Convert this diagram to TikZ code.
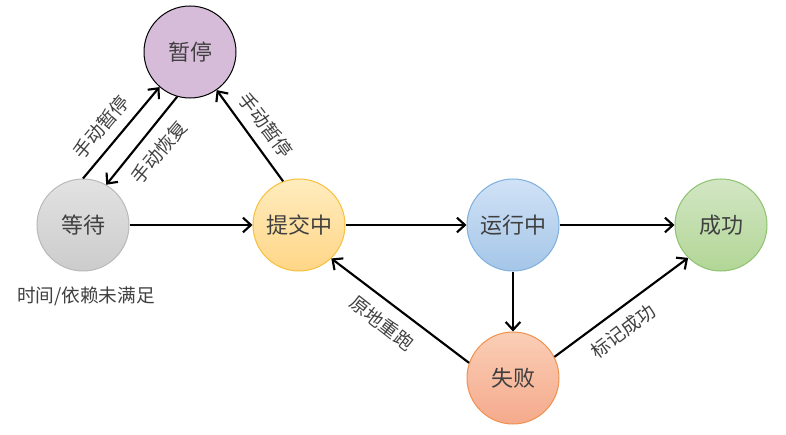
\documentclass[tikz,border=0pt]{standalone}
\usepackage{fontspec}
\setmainfont{Noto Sans CJK SC}
\usetikzlibrary{arrows.meta}
\definecolor{txt}{RGB}{64,64,64}
\definecolor{pausefill}{RGB}{215,188,218}
\definecolor{waittop}{RGB}{226,226,226}
\definecolor{waitbot}{RGB}{204,204,204}
\definecolor{waitdraw}{RGB}{185,185,185}
\definecolor{subtop}{RGB}{255,236,190}
\definecolor{subbot}{RGB}{255,214,135}
\definecolor{subdraw}{RGB}{247,192,60}
\definecolor{runtop}{RGB}{208,226,246}
\definecolor{runbot}{RGB}{165,198,232}
\definecolor{rundraw}{RGB}{126,176,222}
\definecolor{oktop}{RGB}{210,230,196}
\definecolor{okbot}{RGB}{178,214,150}
\definecolor{okdraw}{RGB}{141,194,111}
\definecolor{failtop}{RGB}{250,206,182}
\definecolor{failbot}{RGB}{245,170,140}
\definecolor{faildraw}{RGB}{240,145,78}
\begin{document}
\begin{tikzpicture}[x=0.75pt,y=-0.75pt,
  state/.style={circle, minimum size=69pt, inner sep=0pt, line width=0.75pt,
    font=\fontsize{16.5}{18}\selectfont, text=txt},
  arr/.style={line width=1.6pt, -{Straight Barb[length=6pt,width=11pt,line width=1.6pt]}},
  lab/.style={font=\fontsize{14}{16}\selectfont, text=txt, inner sep=0pt}]
\useasboundingbox (0,0) rectangle (786,435);
\node[state, draw=black, fill=pausefill] (pause) at (190,52) {暂停};
\node[state, draw=waitdraw, top color=waittop, bottom color=waitbot] (wait) at (83,225) {等待};
\node[state, draw=subdraw, top color=subtop, bottom color=subbot] (submit) at (299,225) {提交中};
\node[state, draw=rundraw, top color=runtop, bottom color=runbot] (run) at (513,225) {运行中};
\node[state, draw=okdraw, top color=oktop, bottom color=okbot] (ok) at (721,225) {成功};
\node[state, draw=faildraw, top color=failtop, bottom color=failbot] (fail) at (513,378) {失败};

\draw[arr] (wait.90) -- (pause.229);
\draw[arr] (pause.254) -- (wait.60);
\draw[arr] (submit.110) -- (pause.305);
\draw[arr] (wait.east) -- (submit.west);
\draw[arr] (submit.east) -- (run.west);
\draw[arr] (run.east) -- (ok.west);
\draw[arr] (run.south) -- (fail.north);
\draw[arr] (fail.161) -- (submit.314);
\draw[arr] (fail.27) -- (ok.225);

\node[lab, rotate=50] (l1) at (101,127) {手动暂停};
\node[lab, rotate=50] (l2) at (159,152) {手动恢复};
\node[lab, rotate=-53] (l3) at (266,125) {手动暂停};
\node[lab, rotate=-38] (l4) at (382,323) {原地重跑};
\node[lab, rotate=37] (l5) at (623,331) {标记成功};
\node[lab] (l6) at (86,296) {时间/依赖未满足};
\end{tikzpicture}
\end{document}
